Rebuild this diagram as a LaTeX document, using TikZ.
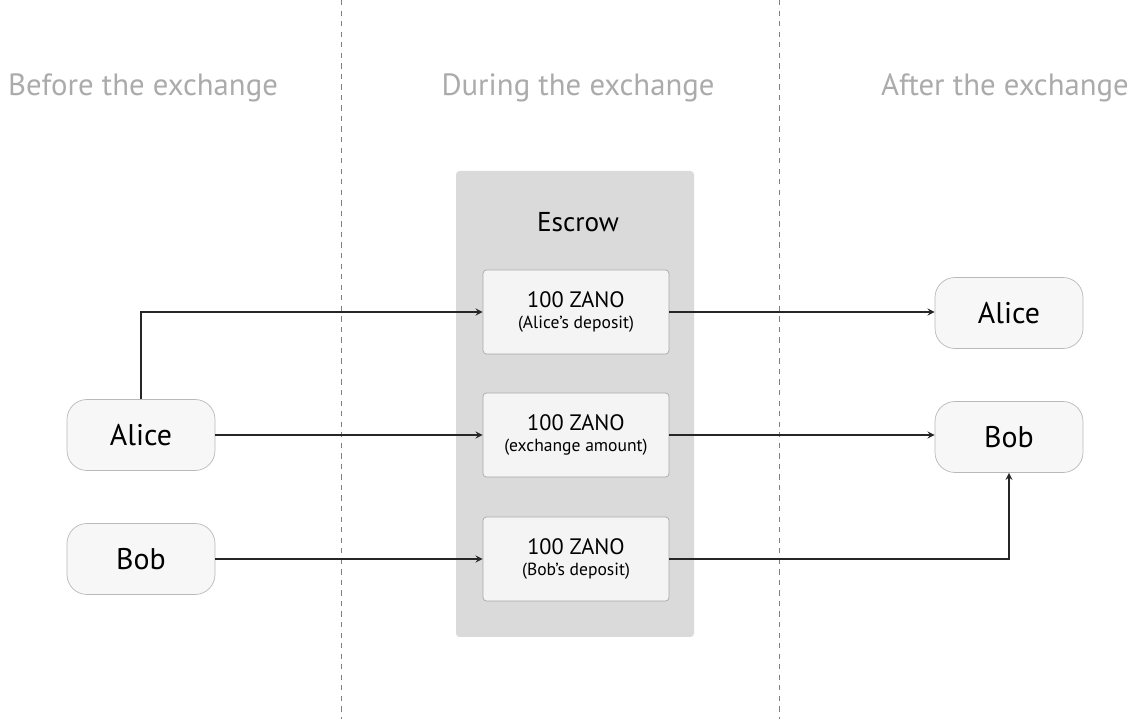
\documentclass[tikz,border=0pt]{standalone}
\usepackage{fontspec}
\setmainfont{PT Sans}
\usetikzlibrary{positioning,arrows}

\definecolor{headgray}{HTML}{ABABAB}
\definecolor{escrowgray}{HTML}{DADADA}
\definecolor{boxfill}{HTML}{F5F4F5}
\definecolor{partyfill}{HTML}{F8F7F8}
\definecolor{boxline}{HTML}{A8A8A8}

\tikzset{
  party/.style={draw=boxline!80,fill=partyfill,rounded corners=0.4cm,minimum width=148*0.02cm,minimum height=71*0.02cm,font=\fontsize{17}{19}\selectfont},
  coin/.style={draw=boxline,fill=boxfill,rounded corners=2pt,minimum width=186*0.02cm,minimum height=84*0.02cm,align=center,font=\fontsize{12.7}{14}\selectfont},
  phase/.style={text=headgray,font=\fontsize{17.5}{19}\selectfont},
  flow/.style={->,thick,draw=black!85}
}

\begin{document}
\begin{tikzpicture}[>=stealth,x=0.02cm,y=-0.02cm]
        \useasboundingbox (0,0) rectangle (1144,719);
        % phase separators
        \draw[dashed,gray] (341,0)--(341,719);
        \draw[dashed,gray] (779,0)--(779,719);
        \path
        (143,88)  node[phase] (before) {Before the exchange}
        (578,88)  node[phase] (during) {During the exchange}
        (1005,88) node[phase] (after)  {After the exchange};
        % escrow
        \fill[escrowgray,rounded corners=2pt] (456,171) rectangle (694,637);
        \node[font=\fontsize{15.5}{17}\selectfont] (escrow) at (578,222) {Escrow};
        \path
        (576,312) node[coin] (dep1) {100 ZANO\\[-2pt]{\fontsize{10}{12}\selectfont (Alice’s deposit)}}
        (576,435) node[coin] (amount) {100 ZANO\\[-2pt]{\fontsize{10}{12}\selectfont (exchange amount)}}
        (576,559) node[coin] (dep2) {100 ZANO\\[-2pt]{\fontsize{10}{12}\selectfont (Bob’s deposit)}};
        % parties
        \path
        (141,435)  node[party] (alice) {Alice}
        (141,559)  node[party] (bob)   {Bob}
        (1009,313) node[party] (alice2) {Alice}
        (1009,437) node[party] (bob2)   {Bob};
        \draw[flow] (alice.north) |- (dep1.west);
        \draw[flow] (alice.east)--(amount.west);
        \draw[flow] (bob.east)--(dep2.west);
        \draw[flow] (dep1.east)--(dep1.east-|alice2.west);
        \draw[flow] (amount.east)--(amount.east-|bob2.west);
        \draw[flow] (dep2.east) -| (bob2.south);
\end{tikzpicture}
\end{document}
